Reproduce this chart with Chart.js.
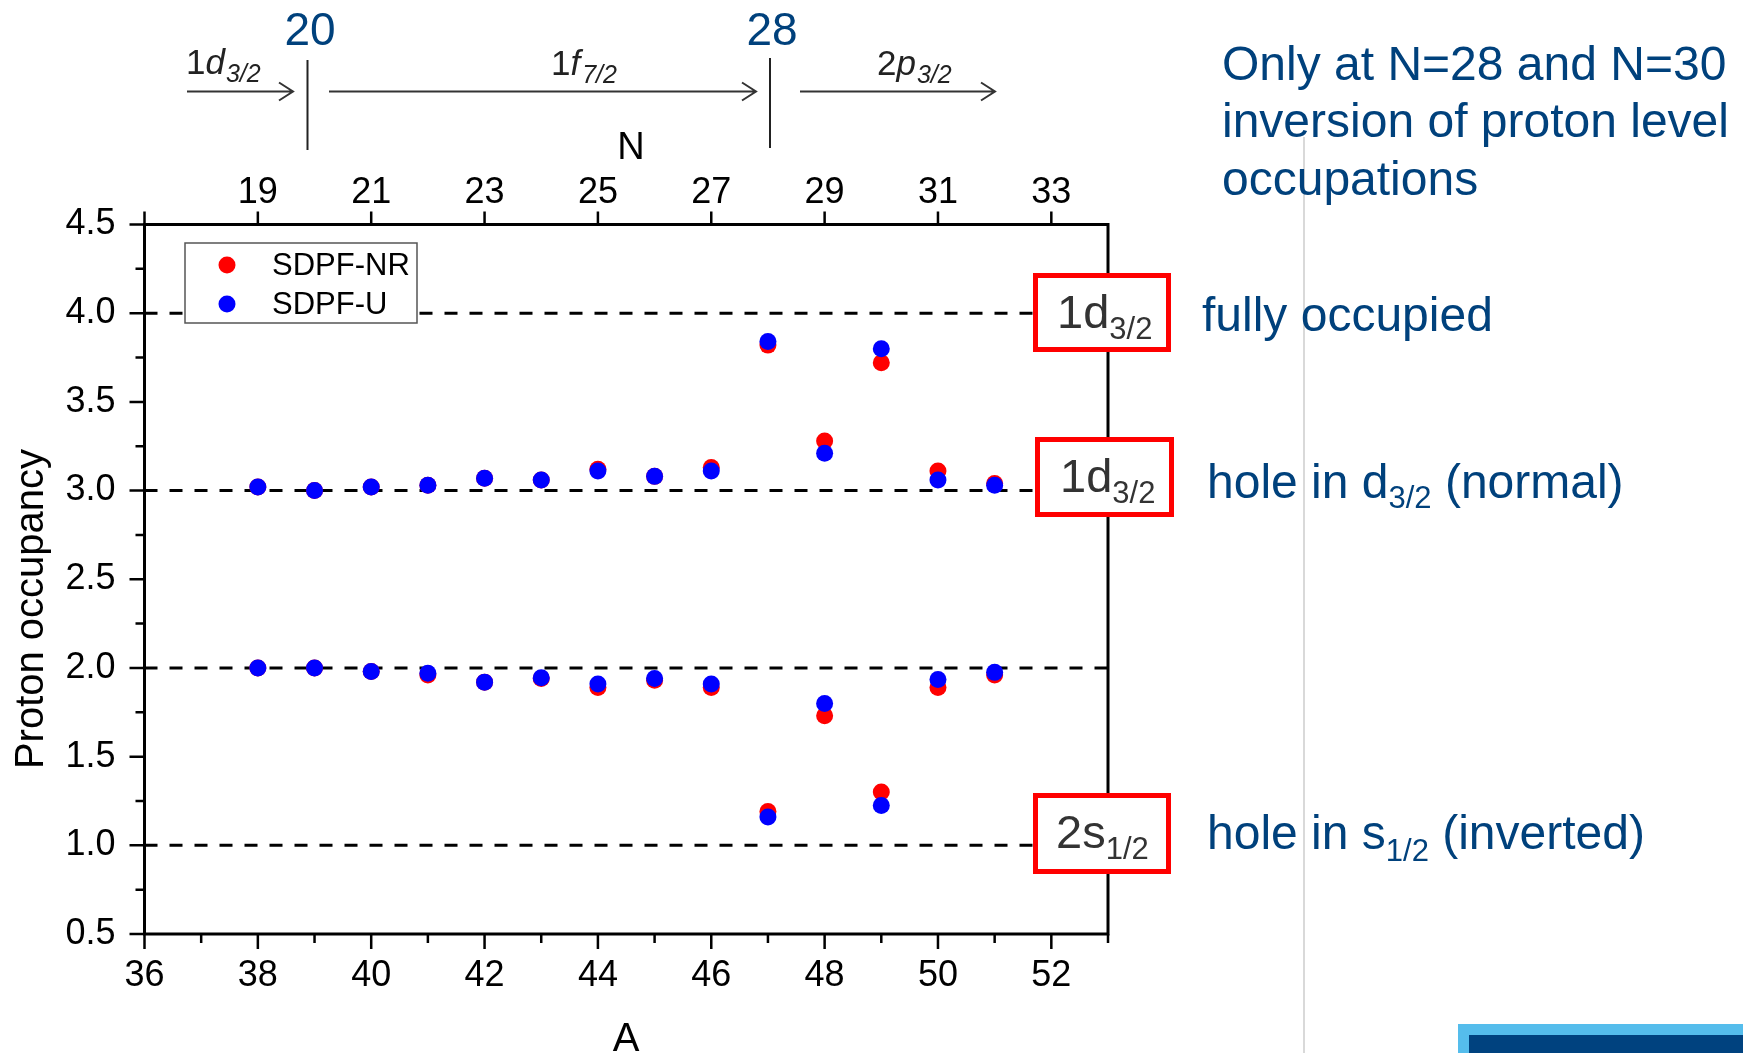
<!DOCTYPE html>
<html>
<head>
<meta charset="utf-8">
<title>Proton occupancy</title>
<script src="https://cdn.jsdelivr.net/npm/chart.js@4.4.1/dist/chart.umd.min.js"></script>
<style>
  html, body { margin: 0; padding: 0; background: #fff; }
  canvas { display: block; }
</style>
</head>
<body>
<canvas id="occupancyChart" width="1743" height="1053"></canvas>
<script>
// Mass number A of each nucleus
const massNumbers = [38, 39, 40, 41, 42, 43, 44, 45, 46, 47, 48, 49, 50, 51];
// Proton occupancy, upper branch
const sdpfNrUpper = [3.02, 3.00, 3.02, 3.03, 3.07, 3.06, 3.12, 3.08, 3.13, 3.82, 3.28, 3.72, 3.11, 3.04];
const sdpfUUpper  = [3.02, 3.00, 3.02, 3.03, 3.07, 3.06, 3.11, 3.08, 3.11, 3.84, 3.21, 3.80, 3.06, 3.03];
// Proton occupancy, lower branch
const sdpfNrLower = [2.00, 2.00, 1.98, 1.96, 1.92, 1.94, 1.89, 1.93, 1.89, 1.19, 1.73, 1.30, 1.89, 1.96];
const sdpfULower  = [2.00, 2.00, 1.98, 1.97, 1.92, 1.945, 1.91, 1.94, 1.91, 1.16, 1.80, 1.225, 1.935, 1.975];

// Tick labels
const aTicks = [36, 38, 40, 42, 44, 46, 48, 50, 52];
const nTicks = [19, 21, 23, 25, 27, 29, 31, 33];
const yTicks = [0.5, 1.0, 1.5, 2.0, 2.5, 3.0, 3.5, 4.0, 4.5];
// Dashed reference levels
const levelLines = [1, 2, 3, 4];

const FONT = '"Liberation Sans", Arial, Helvetica, sans-serif';
const TEXT_BLUE = '#00417c';

// Draws a run of text pieces (for subscripts / italics)
function richText(ctx, parts, x, y, color) {
    let cx = x;
    ctx.fillStyle = color;
    ctx.textAlign = 'left';
    ctx.textBaseline = 'alphabetic';
    parts.forEach(p => {
        ctx.font = (p.italic ? 'italic ' : '') + p.size + 'px ' + FONT;
        ctx.fillText(p.t, cx, y + (p.dy || 0));
        cx += ctx.measureText(p.t).width + (p.gap || 0);
    });
}

function arrow(ctx, x1, x2, y) {
    ctx.beginPath();
    ctx.moveTo(x1, y); ctx.lineTo(x2, y);
    ctx.moveTo(x2 - 14, y - 9); ctx.lineTo(x2, y); ctx.lineTo(x2 - 14, y + 9);
    ctx.stroke();
}

const extrasPlugin = {
    id: 'extras',
    beforeDraw(chart) {
        const ctx = chart.ctx;
        ctx.save();
        // thin slide divider
        ctx.strokeStyle = '#cccccc';
        ctx.lineWidth = 1.5;
        ctx.beginPath(); ctx.moveTo(1304, 137); ctx.lineTo(1304, 1053); ctx.stroke();
        // slide footer block
        ctx.fillStyle = '#55bdec';
        ctx.fillRect(1458, 1024, 285, 29);
        ctx.fillStyle = '#00427f';
        ctx.fillRect(1469, 1035, 274, 18);
        ctx.restore();
    },
    beforeDatasetsDraw(chart) {
        const ctx = chart.ctx, area = chart.chartArea, sy = chart.scales.y;
        ctx.save();
        ctx.strokeStyle = '#000';
        ctx.lineWidth = 3;
        ctx.setLineDash([13, 12]);
        levelLines.forEach(v => {
            const y = sy.getPixelForValue(v);
            ctx.beginPath(); ctx.moveTo(area.left, y); ctx.lineTo(area.right, y); ctx.stroke();
        });
        ctx.restore();
    },
    afterDatasetsDraw(chart) {
        const ctx = chart.ctx, area = chart.chartArea;
        const sx = chart.scales.x, sy = chart.scales.y, sn = chart.scales.x2;
        ctx.save();
        ctx.setLineDash([]);

        // tick marks
        ctx.strokeStyle = '#000';
        ctx.lineWidth = 2.5;
        ctx.beginPath();
        for (let a = 36; a <= 53; a++) {
            const x = sx.getPixelForValue(a);
            ctx.moveTo(x, area.bottom); ctx.lineTo(x, area.bottom + (a % 2 === 0 ? 15 : 9));
        }
        for (let k = 0; k <= 16; k++) {
            const y = sy.getPixelForValue(0.5 + k * 0.25);
            ctx.moveTo(area.left, y); ctx.lineTo(area.left - (k % 2 === 0 ? 15 : 9), y);
        }
        for (let n = 17; n <= 33; n += 2) {
            const x = sn.getPixelForValue(n);
            ctx.moveTo(x, area.top); ctx.lineTo(x, area.top - 13);
        }
        ctx.stroke();

        // frame
        ctx.lineWidth = 3;
        ctx.strokeRect(area.left, area.top, area.right - area.left, area.bottom - area.top);

        // axis titles
        ctx.fillStyle = '#000';
        ctx.textAlign = 'center';
        ctx.textBaseline = 'alphabetic';
        ctx.font = '40px ' + FONT;
        ctx.fillText('A', 626, 1051);
        ctx.font = '38px ' + FONT;
        ctx.fillText('N', 631, 159);
        ctx.save();
        ctx.translate(43, 609);
        ctx.rotate(-Math.PI / 2);
        ctx.font = '40px ' + FONT;
        ctx.fillText('Proton occupancy', 0, 0);
        ctx.restore();

        // legend
        ctx.fillStyle = '#fff';
        ctx.fillRect(185, 243, 232, 80);
        ctx.strokeStyle = '#555';
        ctx.lineWidth = 1.5;
        ctx.strokeRect(185, 243, 232, 80);
        chart.data.datasets.forEach((ds, i) => {
            const y = 265 + i * 39;
            ctx.fillStyle = ds.backgroundColor;
            ctx.beginPath(); ctx.arc(227, y, 8.5, 0, Math.PI * 2); ctx.fill();
            ctx.fillStyle = '#000';
            ctx.font = '31px ' + FONT;
            ctx.textAlign = 'left';
            ctx.textBaseline = 'middle';
            ctx.fillText(ds.label, 272, y + 1);
        });

        // shell closures above the plot
        ctx.fillStyle = TEXT_BLUE;
        ctx.textAlign = 'center';
        ctx.textBaseline = 'alphabetic';
        ctx.font = '46px ' + FONT;
        ctx.fillText('20', 310, 45);
        ctx.fillText('28', 772, 45);
        ctx.strokeStyle = '#222';
        ctx.lineWidth = 2;
        ctx.beginPath();
        ctx.moveTo(307.5, 60); ctx.lineTo(307.5, 150);
        ctx.moveTo(770, 58); ctx.lineTo(770, 148);
        ctx.stroke();
        ctx.strokeStyle = '#333';
        arrow(ctx, 187, 293, 91.5);
        arrow(ctx, 329, 756, 91.5);
        arrow(ctx, 800, 995, 91.5);
        richText(ctx, [{t: '1', size: 35}, {t: 'd', size: 35, italic: true, gap: 1}, {t: '3/2', size: 25, dy: 8, italic: true}], 186, 74, '#222');
        richText(ctx, [{t: '1', size: 35}, {t: 'f', size: 35, italic: true, gap: 2}, {t: '7/2', size: 25, dy: 8, italic: true}], 551, 75, '#222');
        richText(ctx, [{t: '2', size: 35}, {t: 'p', size: 35, italic: true, gap: 1}, {t: '3/2', size: 25, dy: 8, italic: true}], 877, 75, '#222');

        // red level boxes
        const boxes = [
            {x: 1033, y: 273, w: 138, h: 79, main: '1d', sub: '3/2', tx: 1057, ty: 328},
            {x: 1035, y: 437, w: 139, h: 80, main: '1d', sub: '3/2', tx: 1060, ty: 492},
            {x: 1033, y: 793, w: 138, h: 81, main: '2s', sub: '1/2', tx: 1056, ty: 848}
        ];
        boxes.forEach(b => {
            ctx.fillStyle = '#fff';
            ctx.fillRect(b.x, b.y, b.w, b.h);
            ctx.strokeStyle = '#ff0000';
            ctx.lineWidth = 5;
            ctx.strokeRect(b.x + 2.5, b.y + 2.5, b.w - 5, b.h - 5);
            richText(ctx, [{t: b.main, size: 47}, {t: b.sub, size: 31, dy: 11}], b.tx, b.ty, '#333');
        });

        // explanations
        ctx.font = '48px ' + FONT;
        ctx.fillStyle = TEXT_BLUE;
        ctx.textAlign = 'left';
        ctx.fillText('Only at N=28 and N=30', 1222, 80);
        ctx.fillText('inversion of proton level', 1222, 137);
        ctx.fillText('occupations', 1222, 195);
        ctx.fillText('fully occupied', 1202, 331);
        richText(ctx, [{t: 'hole in d', size: 48}, {t: '3/2', size: 31, dy: 10}, {t: ' (normal)', size: 48}], 1207, 498, TEXT_BLUE);
        richText(ctx, [{t: 'hole in s', size: 48}, {t: '1/2', size: 31, dy: 12}, {t: ' (inverted)', size: 48}], 1207, 849, TEXT_BLUE);

        ctx.restore();
    }
};

function crearGraficoOcupacion() {
    const canvas = document.getElementById('occupancyChart');
    if (!canvas) {
        console.error("canvas 'occupancyChart' not found");
        return;
    }
    const toPoints = ys => massNumbers.map((a, i) => ({ x: a, y: ys[i] }));
    const tickFont = { family: FONT, size: 36 };

    new Chart(canvas.getContext('2d'), {
        type: 'scatter',
        data: {
            datasets: [
                {
                    label: 'SDPF-NR',
                    data: toPoints(sdpfNrUpper).concat(toPoints(sdpfNrLower)),
                    backgroundColor: '#ff0000',
                    borderWidth: 0,
                    pointRadius: 8.5,
                    order: 1
                },
                {
                    label: 'SDPF-U',
                    data: toPoints(sdpfUUpper).concat(toPoints(sdpfULower)),
                    backgroundColor: '#0000ff',
                    borderWidth: 0,
                    pointRadius: 8.5,
                    order: 0
                }
            ]
        },
        options: {
            responsive: false,
            animation: false,
            devicePixelRatio: 1,
            events: [],
            layout: { padding: { left: 0, top: 0, right: 635, bottom: 0 } },
            plugins: {
                legend: { display: false },
                tooltip: { enabled: false }
            },
            scales: {
                x: {
                    type: 'linear',
                    position: 'bottom',
                    min: 36,
                    max: 53,
                    afterBuildTicks: s => { s.ticks = aTicks.map(v => ({ value: v })); },
                    afterFit: s => { s.height = 119; },
                    grid: { display: false },
                    border: { display: false },
                    ticks: { font: tickFont, color: '#000', padding: 12, maxRotation: 0, autoSkip: false }
                },
                x2: {
                    type: 'linear',
                    position: 'top',
                    min: 17,
                    max: 34,
                    afterBuildTicks: s => { s.ticks = nTicks.map(v => ({ value: v })); },
                    afterFit: s => { s.height = 224.5; },
                    grid: { display: false },
                    border: { display: false },
                    ticks: { font: tickFont, color: '#000', padding: 2, maxRotation: 0, autoSkip: false }
                },
                y: {
                    type: 'linear',
                    position: 'left',
                    min: 0.5,
                    max: 4.5,
                    afterBuildTicks: s => { s.ticks = yTicks.map(v => ({ value: v })); },
                    afterFit: s => { s.width = 144.5; },
                    grid: { display: false },
                    border: { display: false },
                    ticks: {
                        font: tickFont,
                        color: '#000',
                        padding: 21,
                        autoSkip: false,
                        callback: v => Number(v).toFixed(1)
                    }
                }
            }
        },
        plugins: [extrasPlugin]
    });
}

document.addEventListener('DOMContentLoaded', crearGraficoOcupacion);
</script>
</body>
</html>
